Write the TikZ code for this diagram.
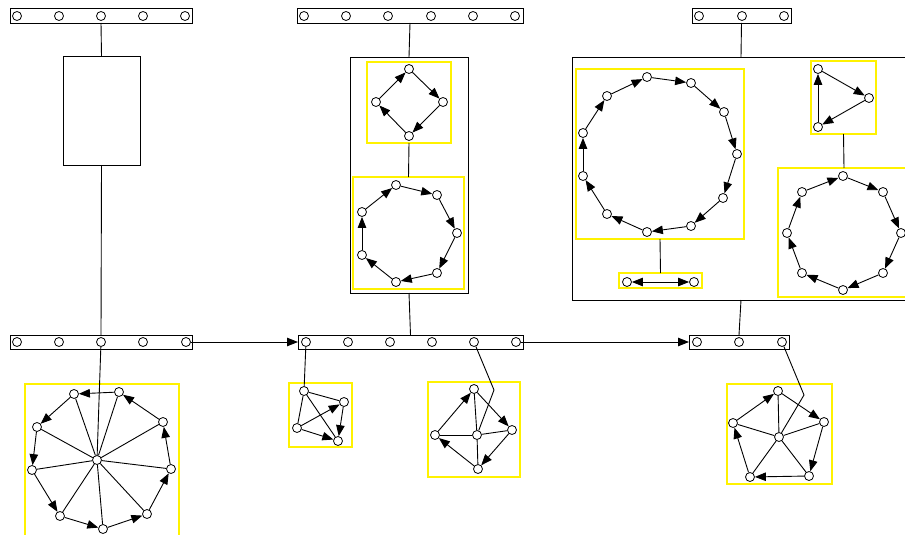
\documentclass[tikz,border=0pt]{standalone}
\usetikzlibrary{arrows.meta}
\begin{document}
\begin{tikzpicture}[x=1pt,y=-1pt,
 v/.style={circle,draw,fill=white,minimum size=9pt,inner sep=0pt,line width=0.8pt},
 bx/.style={draw,rectangle,inner sep=0pt,outer sep=0pt,line width=0.9pt},
 yb/.style={draw=yellow,rectangle,inner sep=0pt,outer sep=0pt,line width=1.2pt},
 ln/.style={line width=0.9pt},
 arr/.style={ln,-{Triangle[length=11pt,width=8.5pt]}},
 biarr/.style={ln,{Triangle[length=11pt,width=8.5pt]}-{Triangle[length=11pt,width=8.5pt]}}]
\useasboundingbox (0,0) rectangle (905,535);
\clip (0,0) rectangle (905,535);
% yellow boxes
\node[yb,minimum width=84pt,minimum height=81pt] (y1) at (409,102.5) {};
\node[yb,minimum width=111pt,minimum height=112pt] (y2) at (408.5,233) {};
\node[yb,minimum width=168pt,minimum height=170pt] (yA) at (660,154) {};
\node[yb,minimum width=83pt,minimum height=15pt] (yB) at (660.5,280.5) {};
\node[yb,minimum width=65pt,minimum height=73pt] (yC) at (843.5,97.5) {};
\node[yb,minimum width=132pt,minimum height=129pt] (yD) at (844,232.5) {};
\node[yb,minimum width=154pt,minimum height=153pt] (yW) at (102,460.5) {};
\node[yb,minimum width=63pt,minimum height=64pt] (yS1) at (320.5,415) {};
\node[yb,minimum width=92pt,minimum height=95pt] (yS2) at (474,429.5) {};
\node[yb,minimum width=105pt,minimum height=100pt] (yP) at (779.5,434) {};
% boxes and bars
\node[bx,minimum width=182pt,minimum height=15pt] (tb1) at (101,15.5) {};
\node[bx,minimum width=77pt,minimum height=109pt] (rect1) at (101.5,110.5) {};
\node[bx,minimum width=182pt,minimum height=14pt] (bb1) at (101,342) {};
\node[bx,minimum width=226pt,minimum height=15pt] (tb2) at (410,15.5) {};
\node[bx,minimum width=118pt,minimum height=236pt] (c2) at (409,175) {};
\node[bx,minimum width=225pt,minimum height=14pt] (bb2) at (410.5,342) {};
\node[bx,minimum width=99pt,minimum height=15pt] (tb3) at (741.5,15.5) {};
\node[bx,minimum width=338pt,minimum height=243pt] (c3) at (741,178.5) {};
\node[bx,minimum width=100pt,minimum height=14pt] (bb3) at (739,342) {};
% bar circles
\foreach \x [count=\i] in {17,59,101,143,185} \node[v] (t1c\i) at (\x,16) {};
\foreach \x [count=\i] in {17,59,101,143,186} \node[v] (b1c\i) at (\x,342) {};
\foreach \x [count=\i] in {304,346,388,431,473,515} \node[v] (t2c\i) at (\x,16) {};
\foreach \x [count=\i] in {306,348,390,432,474,516} \node[v] (b2c\i) at (\x,342) {};
\foreach \x [count=\i] in {699,742,784} \node[v] (t3c\i) at (\x,16) {};
\foreach \x [count=\i] in {697,739,782} \node[v] (b3c\i) at (\x,342) {};
% diamond
\node[v] (d1) at (409,69) {};
\node[v] (d2) at (443,102) {};
\node[v] (d3) at (409,136) {};
\node[v] (d4) at (376,102) {};
\foreach \i/\j in {1/2,2/3,3/4,4/1} \draw[arr] (d\i) -- (d\j);
% heptagon
\foreach \p [count=\i] in {(396,185),(437,195),(457,233),(437,273),(396,282),(362,255),(362,212)} \node[v] (h\i) at \p {};
\foreach \i/\j in {1/2,2/3,3/4,4/5,5/6,6/7,7/1} \draw[arr] (h\i) -- (h\j);
% 11-cycle
\foreach \p [count=\i] in {(647,77),(691,83),(724,112),(737,154),(723,198),(691,226),(647,232),(607,214),(583,176),(583,133),(607,96)} \node[v] (e\i) at \p {};
\foreach \i/\j in {1/2,2/3,3/4,4/5,5/6,6/7,7/8,8/9,9/10,10/11,11/1} \draw[arr] (e\i) -- (e\j);
% pair
\node[v] (pa) at (627,282) {};
\node[v] (pb) at (694,282) {};
\draw[biarr] (pa) -- (pb);
% triangle
\node[v] (tr1) at (818,69) {};
\node[v] (tr2) at (869,98) {};
\node[v] (tr3) at (818,127) {};
\foreach \i/\j in {1/2,2/3,3/1} \draw[arr] (tr\i) -- (tr\j);
% octagon
\foreach \p [count=\i] in {(843,176),(883,192),(901,233),(883,273),(843,290),(802,273),(787,233),(802,192)} \node[v] (o\i) at \p {};
\foreach \i/\j in {1/2,2/3,3/4,4/5,5/6,6/7,7/8,8/1} \draw[arr] (o\i) -- (o\j);
% wheel 9
\node[v] (wh) at (97,460) {};
\foreach \p [count=\i] in {(119,392),(74,394),(37,427),(32,470),(60,516),(103,529),(147,514),(171,469),(163,422)} \node[v] (w\i) at \p {};
\foreach \i in {1,...,9} \draw[ln] (wh) -- (w\i);
\foreach \i/\j in {1/2,2/3,3/4,4/5,5/6,6/7,7/8,8/9,9/1} \draw[arr] (w\i) -- (w\j);
% small graph 1
\node[v] (sA) at (304,391) {};
\node[v] (sB) at (344,402) {};
\node[v] (sC) at (297,428) {};
\node[v] (sD) at (338,441) {};
\draw[ln] (sA) -- (sB);
\draw[ln] (sA) -- (sC);
\draw[ln] (sA) -- (sD);
\draw[arr] (sC) -- (sB);
\draw[arr] (sC) -- (sD);
\draw[arr] (sB) -- (sD);
% small graph 2
\node[v] (qH) at (477,435) {};
\node[v] (qT) at (474,389) {};
\node[v] (qR) at (512,430) {};
\node[v] (qB) at (478,469) {};
\node[v] (qL) at (435,435) {};
\foreach \n in {qT,qR,qB,qL} \draw[ln] (qH) -- (\n);
\draw[arr] (qL) -- (qT);
\draw[arr] (qT) -- (qR);
\draw[arr] (qR) -- (qB);
\draw[arr] (qB) -- (qL);
% pentagon wheel
\node[v] (pH) at (779,437) {};
\node[v] (p1) at (778,391) {};
\node[v] (p2) at (824,422) {};
\node[v] (p3) at (809,476) {};
\node[v] (p4) at (750,477) {};
\node[v] (p5) at (733,423) {};
\foreach \i in {1,...,5} \draw[ln] (pH) -- (p\i);
\foreach \i/\j in {5/1,1/2,2/3,3/4,4/5} \draw[arr] (p\i) -- (p\j);
% structure connectors
\draw[ln] (tb1.south) -- (rect1.north);
\draw[ln] (rect1.south) -- (bb1.north);
\draw[ln] (b1c3) -- (wh);
\draw[arr] (b1c5) -- (bb2.west);
\draw[ln] (tb2.south) -- (c2.north);
\draw[ln] (y1.south) -- (y2.north);
\draw[ln] (c2.south) -- (bb2.north);
\draw[ln] (b2c1) -- (sA);
\coordinate (k1) at (494,390);
\draw[ln] (b2c5) -- (k1) -- (qH);
\draw[arr] (b2c6) -- (bb3.west);
\draw[ln] (tb3.south) -- (c3.north);
\draw[ln] (yA.south) -- (yB.north);
\draw[ln] (yC.south) -- (yD.north);
\draw[ln] (c3.south) -- (bb3.north);
\coordinate (k2) at (804,395);
\draw[ln] (b3c3) -- (k2) -- (pH);
\end{tikzpicture}
\end{document}
